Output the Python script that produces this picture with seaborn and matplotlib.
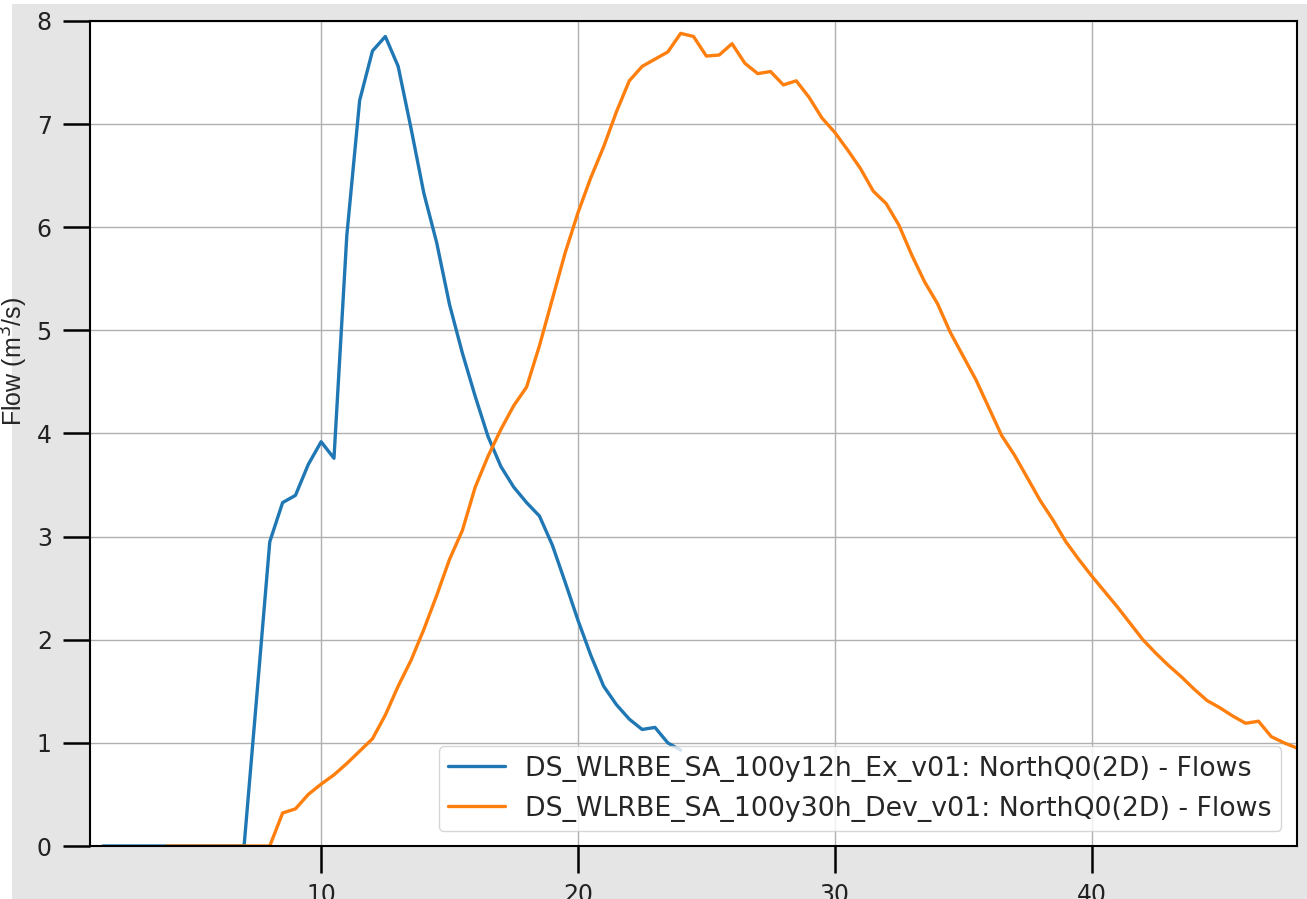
import matplotlib
matplotlib.use('Agg')
import matplotlib.pyplot as plt
import matplotlib.patches as mpatches
import pandas as pd
import seaborn as sns

# Flow hydrographs (hours, m3/s)
ex_hours = [1.5, 2.0, 2.5, 3.0, 3.5, 4.0, 4.5, 5.0, 5.5, 6.0, 6.5, 7.0,
            7.5, 8.0, 8.5, 9.0, 9.5, 10.0, 10.5, 11.0, 11.5, 12.0, 12.5,
            13.0, 13.5, 14.0, 14.5, 15.0, 15.5, 16.0, 16.5, 17.0, 17.5,
            18.0, 18.5, 19.0, 19.5, 20.0, 20.5, 21.0, 21.5, 22.0, 22.5,
            23.0, 23.5, 24.0]
ex_flow = [0.0, 0.0, 0.0, 0.0, 0.0, 0.0, 0.0, 0.0, 0.0, 0.0, 0.0, 0.0,
           1.47, 2.95, 3.33, 3.40, 3.70, 3.92, 3.76, 5.92, 7.23, 7.71, 7.85,
           7.56, 6.96, 6.33, 5.85, 5.25, 4.78, 4.36, 3.97, 3.68, 3.48,
           3.33, 3.20, 2.92, 2.56, 2.19, 1.85, 1.55, 1.37, 1.23, 1.13,
           1.15, 1.00, 0.93]

dev_hours = [4.0, 4.5, 5.0, 5.5, 6.0, 6.5, 7.0, 7.5, 8.0, 8.5, 9.0, 9.5,
             10.0, 10.5, 11.0, 11.5, 12.0, 12.5, 13.0, 13.5, 14.0, 14.5,
             15.0, 15.5, 16.0, 16.5, 17.0, 17.5, 18.0, 18.5, 19.0, 19.5,
             20.0, 20.5, 21.0, 21.5, 22.0, 22.5, 23.0, 23.5, 24.0, 24.5,
             25.0, 25.5, 26.0, 26.5, 27.0, 27.5, 28.0, 28.5, 29.0, 29.5,
             30.0, 30.5, 31.0, 31.5, 32.0, 32.5, 33.0, 33.5, 34.0, 34.5,
             35.0, 35.5, 36.0, 36.5, 37.0, 37.5, 38.0, 38.5, 39.0, 39.5,
             40.0, 40.5, 41.0, 41.5, 42.0, 42.5, 43.0, 43.5, 44.0, 44.5,
             45.0, 45.5, 46.0, 46.5, 47.0, 47.5, 48.0]
dev_flow = [0.0, 0.0, 0.0, 0.0, 0.0, 0.0, 0.0, 0.0, 0.0, 0.32, 0.36, 0.50,
            0.60, 0.69, 0.80, 0.92, 1.04, 1.27, 1.55, 1.80, 2.10, 2.43,
            2.78, 3.06, 3.48, 3.78, 4.04, 4.27, 4.45, 4.85, 5.30, 5.75,
            6.14, 6.48, 6.78, 7.12, 7.42, 7.56, 7.63, 7.70, 7.88, 7.85,
            7.66, 7.67, 7.78, 7.59, 7.49, 7.51, 7.38, 7.42, 7.26, 7.06,
            6.92, 6.75, 6.57, 6.35, 6.23, 6.02, 5.73, 5.47, 5.26, 4.98,
            4.75, 4.52, 4.25, 3.98, 3.79, 3.57, 3.35, 3.16, 2.95, 2.78,
            2.62, 2.47, 2.32, 2.16, 2.00, 1.87, 1.75, 1.64, 1.52, 1.41,
            1.34, 1.26, 1.19, 1.21, 1.06, 1.00, 0.95]

ex_label = 'DS_WLRBE_SA_100y12h_Ex_v01: NorthQ0(2D) - Flows'
dev_label = 'DS_WLRBE_SA_100y30h_Dev_v01: NorthQ0(2D) - Flows'

df_ex = pd.DataFrame({'hours': ex_hours, 'flow': ex_flow})
df_dev = pd.DataFrame({'hours': dev_hours, 'flow': dev_flow})

sns.set_style('ticks')
plt.rcParams['font.family'] = ['DejaVu Sans']

fig = plt.figure(figsize=(13.07, 8.99), dpi=100)
fig.patch.set_facecolor('white')
# grey backdrop of the screenshot
fig.patches.append(mpatches.Rectangle((12 / 1307, 0), 1, (899 - 4) / 899,
                                      transform=fig.transFigure,
                                      facecolor='#e5e5e5', edgecolor='none',
                                      zorder=-10))

ax = fig.add_axes([90 / 1307, 53 / 899, 1207 / 1307, 825 / 899])
ax.set_facecolor('white')

sns.lineplot(x='hours', y='flow', data=df_ex, ax=ax, color='#1f77b4',
             linewidth=2.4, label=ex_label)
sns.lineplot(x='hours', y='flow', data=df_dev, ax=ax, color='#ff7f0e',
             linewidth=2.4, label=dev_label)

ax.set_xlim(1.0, 48.0)
ax.set_ylim(0, 8)
ax.set_xticks([10, 20, 30, 40])
ax.set_yticks(range(0, 9))
ax.grid(True, color='#b0b0b0', linewidth=1.0)
ax.set_axisbelow(True)

for s in ax.spines.values():
    s.set_visible(True)
    s.set_color('black')
    s.set_linewidth(1.5)

ax.tick_params(axis='both', direction='out', length=19.5, width=1.8,
               labelsize=17, colors='black', labelcolor='#222222')
ax.tick_params(axis='x', pad=7)
ax.tick_params(axis='y', pad=8)

ax.set_xlabel('')
ax.set_ylabel('Flow (m$^3$/s)', family='Liberation Sans', fontsize=18)
ax.yaxis.set_label_coords(-0.05, 0.588)

leg = ax.legend(loc='lower right', bbox_to_anchor=(0.9868, 0.0182),
                borderaxespad=0, fontsize=19.3, framealpha=0.8,
                handlelength=2.13, handletextpad=0.75, labelspacing=0.52,
                borderpad=0.35)
leg.get_frame().set_edgecolor('#cccccc')

fig.savefig('out.png', dpi=100, facecolor=fig.get_facecolor())
